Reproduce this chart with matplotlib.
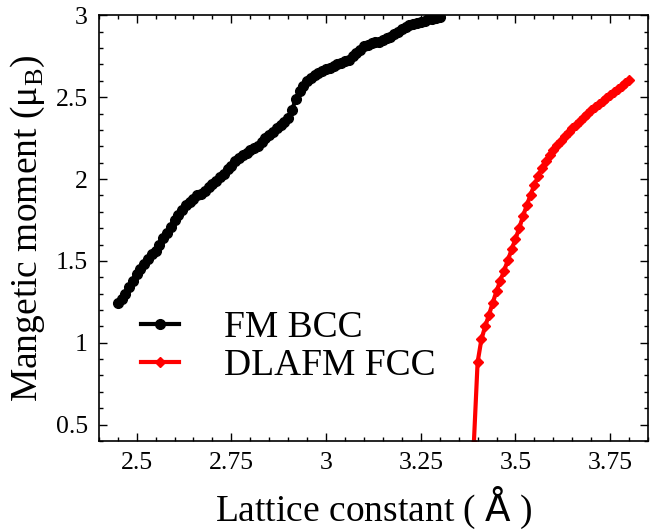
import numpy as np
import matplotlib
matplotlib.use('Agg')
import matplotlib.pyplot as plt
from matplotlib.ticker import MultipleLocator

plt.rcParams['font.family'] = ['Liberation Serif', 'DejaVu Serif']
plt.rcParams['mathtext.fontset'] = 'custom'
plt.rcParams['mathtext.rm'] = 'Liberation Serif'
plt.rcParams['mathtext.sf'] = 'DejaVu Sans'

# FM BCC: lattice constant grid 2.45 .. 3.30 (step 0.01)
a_bcc = np.round(np.arange(2.45, 3.305, 0.01), 2)
m_bcc = [1.24, 1.27, 1.30, 1.34, 1.38, 1.42, 1.45, 1.48, 1.51, 1.54,
         1.56, 1.60, 1.64, 1.67, 1.71, 1.75, 1.78, 1.81, 1.84, 1.86,
         1.88, 1.90, 1.91, 1.93, 1.95, 1.97, 1.99, 2.01, 2.03, 2.06,
         2.08, 2.11, 2.13, 2.145, 2.16, 2.175, 2.19, 2.205, 2.225, 2.25,
         2.27, 2.29, 2.31, 2.33, 2.35, 2.37, 2.42, 2.49, 2.54, 2.57,
         2.60, 2.62, 2.635, 2.65, 2.66, 2.67, 2.68, 2.69, 2.70, 2.71,
         2.72, 2.73, 2.75, 2.77, 2.79, 2.81, 2.82, 2.83, 2.835, 2.84,
         2.85, 2.86, 2.87, 2.885, 2.90, 2.915, 2.93, 2.94, 2.95, 2.955,
         2.96, 2.965, 2.975, 2.98, 2.985, 2.99]

# DLAFM FCC: lattice constant grid 3.39 .. 3.80 (step 0.01)
a_fcc = np.round(np.arange(3.39, 3.805, 0.01), 2)
m_fcc = [0.38, 0.88, 1.02, 1.10, 1.17, 1.245, 1.315, 1.38, 1.44, 1.505,
         1.57, 1.635, 1.70, 1.775, 1.84, 1.905, 1.965, 2.02, 2.07, 2.11,
         2.145, 2.177, 2.207, 2.235, 2.261, 2.286, 2.31, 2.333, 2.355, 2.377,
         2.398, 2.419, 2.439, 2.459, 2.478, 2.497, 2.516, 2.534, 2.552, 2.57,
         2.588, 2.606]

fig = plt.figure(figsize=(6.5, 5.3), dpi=100)
ax = fig.add_axes([0.152, 0.168, 0.845, 0.803])

ax.plot(a_bcc, m_bcc, color='black', lw=3, marker='o', ms=7, label='FM BCC')
ax.plot(a_fcc, m_fcc, color='red', lw=3, marker='D', ms=5.5, label='DLAFM FCC')

ax.set_xlim(2.4, 3.85)
ax.set_ylim(0.4, 3.0)
ax.xaxis.set_minor_locator(MultipleLocator(0.05))
ax.yaxis.set_minor_locator(MultipleLocator(0.1))
ax.set_xticks([2.5, 2.75, 3.0, 3.25, 3.5, 3.75])
ax.set_xticklabels(['2.5', '2.75', '3', '3.25', '3.5', '3.75'])
ax.set_yticks([0.5, 1.0, 1.5, 2.0, 2.5, 3.0])
ax.set_yticklabels(['0.5', '1', '1.5', '2', '2.5', '3'])
ax.tick_params(which='both', direction='in', top=True, right=True, labelsize=18.5, width=1)
ax.tick_params(which='major', length=6, pad=8)
ax.tick_params(which='minor', length=3)
for s in ax.spines.values():
    s.set_linewidth(1.2)

ax.set_xlabel(r'Lattice constant ( $\mathsf{Å}$ )', fontsize=27, labelpad=8)
ax.set_ylabel(r'Mangetic moment (μ$_{\mathrm{B}}$)', fontsize=27, labelpad=6)

ax.legend(loc='lower left', bbox_to_anchor=(0.05, 0.1), frameon=False, fontsize=27,
          handlelength=1.0, handletextpad=1.2, labelspacing=0.1, borderaxespad=0)

fig.savefig('out.png', dpi=100)
